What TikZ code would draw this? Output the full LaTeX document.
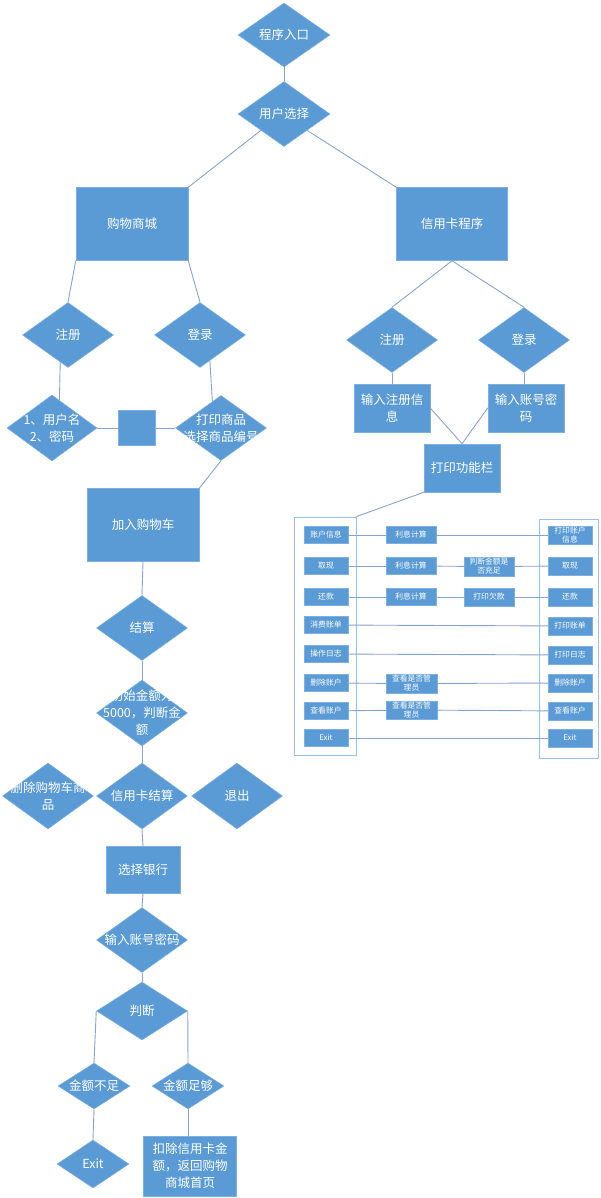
\documentclass[tikz,border=0pt]{standalone}
\usepackage{fontspec}
\setmainfont{Noto Sans CJK SC}
\usetikzlibrary{shapes.geometric}

\definecolor{boxblue}{HTML}{5B9BD5}
\definecolor{boxedge}{HTML}{7DAFE0}
\definecolor{linkgray}{HTML}{8AA3CB}
\definecolor{framec}{HTML}{9CBFE3}

% centred text of zero size, so the shape keeps its own size
\newcommand{\ctr}[1]{\makebox[0pt]{\smash{\raisebox{-.35em}{\begin{tabular}{@{}c@{}}#1\end{tabular}}}}}

\tikzset{
	blueshape/.style = {fill = boxblue, draw = boxedge, line width = 0.5pt, inner sep = 0pt, text = white, font = \fontsize{12.5}{17}\selectfont},
	decision/.style = {blueshape, diamond, minimum width = 91pt, minimum height = 65pt},
	process/.style = {blueshape, rectangle, minimum width = 112pt, minimum height = 73pt},
	cell/.style = {blueshape, rectangle, minimum width = 44pt, minimum height = 17pt, font = \fontsize{7.8}{9}\selectfont},
	panel/.style = {draw = framec, line width = 0.8pt, fill = white, rectangle, inner sep = 0pt},
	link/.style = {draw = linkgray, line width = 0.9pt}
}

\begin{document}
\begin{tikzpicture}[x = 1pt, y = -1pt]
			\fill [white] (0,0) rectangle (601,1198);
			\useasboundingbox (0,0) rectangle (601,1198);

			% top
			\node [decision, minimum width = 92pt, minimum height = 64pt] (entry) at (284,35) {\ctr{程序入口}};
			\node [decision, minimum width = 92pt] (choose) at (284,114) {\ctr{用户选择}};
			\node [process] (mall) at (132,224) {\ctr{购物商城}};
			\node [process, minimum width = 111pt] (credit) at (452,224) {\ctr{信用卡程序}};

			% shop side
			\node [decision] (mreg) at (68,335) {\ctr{注册}};
			\node [decision] (mlog) at (200,335) {\ctr{登录}};
			\node [decision, minimum width = 90pt, minimum height = 66pt] (uname) at (52,428) {\ctr{1、用户名\\2、密码}};
			\node [process, minimum width = 37pt, minimum height = 35pt] (sq) at (137,428) {};
			\node [decision] (goods) at (221,428) {\ctr{打印商品\\选择商品编号}};
			\node [process] (cart) at (143,525) {\ctr{加入购物车}};
			\node [decision] (pay) at (142,628) {\ctr{结算}};
			\node [decision, minimum height = 66pt] (amount) at (142,713) {\ctr{初始金额为\\5000，判断金\\额}};
			\node [decision, minimum height = 66pt] (del) at (48,796) {\ctr{删除购物车商\\品}};
			\node [decision, minimum height = 66pt] (cpay) at (142,796) {\ctr{信用卡结算}};
			\node [decision, minimum height = 66pt] (quit) at (237,796) {\ctr{退出}};
			\node [process, minimum width = 74pt, minimum height = 47pt] (bank) at (143,870) {\ctr{选择银行}};
			\node [decision] (acct) at (142,940) {\ctr{输入账号密码}};
			\node [decision, minimum height = 58pt] (judge) at (142,1011) {\ctr{判断}};
			\node [decision, minimum width = 72pt, minimum height = 46pt] (low) at (94,1086) {\ctr{金额不足}};
			\node [decision, minimum width = 72pt, minimum height = 46pt] (enough) at (188,1086) {\ctr{金额足够}};
			\node [decision, minimum width = 72pt, minimum height = 48pt] (exit) at (93,1164) {\ctr{Exit}};
			\node [process, minimum width = 93pt, minimum height = 60pt] (deduct) at (190,1166) {\ctr{扣除信用卡金\\额，返回购物\\商城首页}};

			% card side
			\node [decision] (creg) at (392,340) {\ctr{注册}};
			\node [decision] (clog) at (524,340) {\ctr{登录}};
			\node [process, minimum width = 76pt, minimum height = 48pt] (reginfo) at (392,408) {\ctr{输入注册信\\息}};
			\node [process, minimum width = 76pt, minimum height = 48pt] (login) at (526,408) {\ctr{输入账号密\\码}};
			\node [process, minimum width = 76pt, minimum height = 48pt] (menu) at (462,468) {\ctr{打印功能栏}};

			% menu table
			\node [panel, minimum width = 62pt, minimum height = 238pt] (lpanel) at (325,636) {};
			\node [panel, minimum width = 59pt, minimum height = 239pt] (rpanel) at (568.5,638.5) {};

			\foreach \y/\t [count = \i] in {535/账户信息, 566/取现, 597/还款, 625/消费账单, 654/操作日志, 683/删除账户, 711/查看账户, 738/Exit}
				\node [cell] (l\i) at (326,\y) {\ctr{\t}};
			\foreach \y/\t [count = \i] in {535/{打印账户\\信息}, 566/取现, 597/还款, 626/打印账单, 655/打印日志, 683/删除账户, 711/查看账户, 738/Exit}
				\node [cell, minimum height = 18pt] (r\i) at (570,\y) {\ctr{\t}};

			\node [cell, minimum width = 50pt] (m1) at (411,535) {\ctr{利息计算}};
			\node [cell, minimum width = 50pt] (m2) at (411,566) {\ctr{利息计算}};
			\node [cell, minimum width = 50pt] (m3) at (411,597) {\ctr{利息计算}};
			\node [cell, minimum width = 50pt, minimum height = 19pt] (j2) at (489,566.5) {\ctr{判断金额是\\否充足}};
			\node [cell, minimum width = 50pt, minimum height = 18pt] (j3) at (489,597) {\ctr{打印欠款}};
			\node [cell, minimum width = 51pt, minimum height = 19pt] (m6) at (411.5,683.5) {\ctr{查看是否管\\理员}};
			\node [cell, minimum width = 51pt, minimum height = 18pt] (m7) at (411.5,710) {\ctr{查看是否管\\理员}};

			\foreach \a/\b in {l1/m1, m1/r1, l2/m2, m2/j2, j2/r2, l3/m3, m3/j3, j3/r3, l4/r4, l5/r5, l6/m6, m6/r6, l7/m7, m7/r7, l8/r8}
				\draw [link] (\a) -- (\b);

			% connectors
			\begin{scope}[link]
				\draw (entry.south) -- (choose.north);
				\draw (choose.south west) -- (mall.north east);
				\draw (choose.south east) -- (credit.north west);

				\draw (mall.south west) -- (mreg.north);
				\draw (mall.south east) -- (mlog.north);
				\draw (mreg.254) -- (uname.75);
				\draw (mlog.291) -- (goods.108);
				\draw (uname.east) -- (sq.west);
				\draw (sq.east) -- (goods.west);
				\draw (goods.south) -- (cart.north east);
				\draw (cart.south) -- (pay.north);
				\draw (pay.south) -- (amount.north);
				\draw (amount.south) -- (cpay.north);
				\draw (cpay.south) -- (bank.north);
				\draw (bank.south) -- (acct.north);
				\draw (acct.south) -- (judge.north);
				\draw (judge.west) -- (low.north);
				\draw (judge.east) -- (enough.north);
				\draw (low.south) -- (exit.north);
				\draw (enough.south) -- (enough.south |- deduct.north);

				\draw (credit.south) -- (creg.north);
				\draw (credit.south) -- (clog.north);
				\draw (creg.south) -- (reginfo.north);
				\draw (clog.south) -- (clog.south |- login.north);
				\draw (reginfo.east) -- (menu.north);
				\draw (login.west) -- (menu.north);
				\draw (menu.south west) -- (lpanel.north east);
			\end{scope}
		\end{tikzpicture}
\end{document}
